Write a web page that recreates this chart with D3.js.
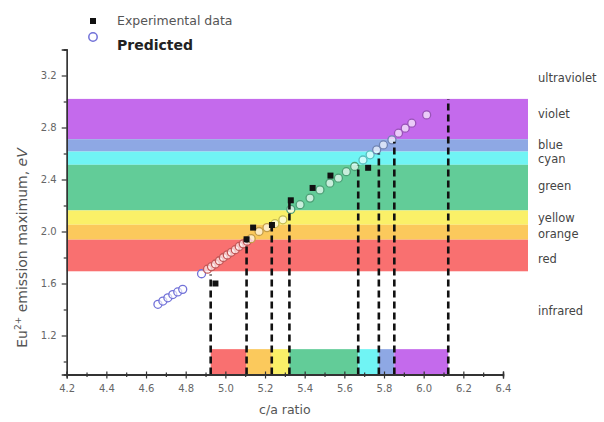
<!DOCTYPE html>
<html><head><meta charset="utf-8">
<script src="https://cdn.jsdelivr.net/npm/d3@7"></script>
<style>
body{margin:0;background:#fff;}
svg{display:block;font-family:"DejaVu Sans",sans-serif;}
</style></head>
<body>
<script>
// ---- data ----
const bandNames  = ["violet","blue","cyan","green","yellow","orange","red"];
const bandLow    = [2.71, 2.615, 2.513, 2.162, 2.052, 1.937, 1.694];
const bandHigh   = [3.02, 2.71, 2.615, 2.513, 2.162, 2.052, 1.937];
const bandColors = ["#c46aec","#8ea8e4","#70f4f4","#62cc98","#faf068","#fbc95c","#f97070"];

const regionLabels = ["ultraviolet","violet","blue","cyan","green","yellow","orange","red","infrared"];
const regionLabelY = [3.18, 2.90, 2.665, 2.555, 2.344, 2.10, 1.98, 1.783, 1.384];

// bottom colour bar segments along c/a
const segStart  = [4.926, 5.107, 5.234, 5.323, 5.670, 5.774, 5.852];
const segEnd    = [5.107, 5.234, 5.323, 5.670, 5.774, 5.852, 6.124];
const segColors = ["#f97070","#fbc95c","#faf068","#62cc98","#70f4f4","#8ea8e4","#c46aec"];

// dashed guide lines
const dashX   = [4.926, 5.107, 5.234, 5.323, 5.670, 5.774, 5.852, 6.124];
const dashTop = [1.67, 1.94, 2.05, 2.23, 2.51, 2.60, 2.69, 3.02];

// experimental data
const expX = [4.95, 5.107, 5.14, 5.235, 5.33, 5.44, 5.53, 5.72];
const expY = [1.60, 1.94, 2.03, 2.05, 2.24, 2.335, 2.43, 2.49];

// predicted
const predX = [4.66,4.685,4.71,4.735,4.76,4.785,
  4.88,4.91,4.93,4.95,4.97,4.99,5.01,5.03,5.05,5.07,5.09,5.11,5.13,
  5.17,5.21,5.25,5.29,5.33,5.377,5.427,5.477,5.527,5.57,5.61,5.652,5.694,5.73,5.763,5.797,5.84,5.873,5.907,5.94,6.015];
const predY = [1.44,1.465,1.49,1.515,1.535,1.555,
  1.675,1.71,1.73,1.75,1.775,1.80,1.82,1.84,1.86,1.885,1.905,1.925,1.945,
  2.00,2.03,2.06,2.09,2.17,2.206,2.257,2.32,2.372,2.41,2.46,2.50,2.55,2.59,2.628,2.666,2.705,2.756,2.795,2.833,2.897];

const xTicks = [4.2,4.4,4.6,4.8,5.0,5.2,5.4,5.6,5.8,6.0,6.2,6.4];
const xMinor = [4.3,4.5,4.7,4.9,5.1,5.3,5.5,5.7,5.9,6.1,6.3];
const yTicks = [1.2,1.6,2.0,2.4,2.8,3.2];
const yMinor = [1.0,1.4,1.8,2.2,2.6,3.0,3.4];

// ---- drawing ----
const W = 604, H = 422;
const svg = d3.select("body").append("svg").attr("width", W).attr("height", H);

const x = d3.scaleLinear().domain([4.2, 6.4]).range([66.7, 503]);
const y = d3.scaleLinear().domain([0.9, 3.4]).range([374.5, 49.5]);
const bandXEnd = 6.526;

// horizontal bands
svg.append("g").selectAll("rect").data(bandNames).join("rect")
  .attr("x", x(4.2)).attr("width", x(bandXEnd) - x(4.2))
  .attr("y", (d,i) => y(bandHigh[i]))
  .attr("height", (d,i) => y(bandLow[i]) - y(bandHigh[i]))
  .attr("fill", (d,i) => bandColors[i]);

// bottom segments
svg.append("g").selectAll("rect").data(segStart).join("rect")
  .attr("x", d => x(d))
  .attr("width", (d,i) => x(segEnd[i]) - x(d))
  .attr("y", y(1.095))
  .attr("height", y(0.9) - y(1.095))
  .attr("fill", (d,i) => segColors[i]);

// predicted circles, outline tinted by band
function bandAt(v){
  for (let i=0;i<bandNames.length;i++) if (v>=bandLow[i] && v<=bandHigh[i]) return bandColors[i];
  return null;
}
svg.append("g").selectAll("circle").data(predX).join("circle")
  .attr("cx", d => x(d))
  .attr("cy", (d,i) => y(predY[i]))
  .attr("r", 4)
  .attr("fill", "rgba(255,255,255,0.65)")
  .attr("stroke", (d,i) => { const c = bandAt(predY[i]); return c ? d3.color(c).darker(0.7).formatHex() : "#7272d8"; })
  .attr("stroke-width", 1.3);

// dashed lines
svg.append("g").selectAll("line").data(dashX).join("line")
  .attr("x1", d => x(d)).attr("x2", d => x(d))
  .attr("y1", y(0.9)).attr("y2", (d,i) => y(dashTop[i]))
  .attr("stroke", "#111").attr("stroke-width", 2.6)
  .attr("stroke-dasharray", "7,4");

// experimental squares
svg.append("g").selectAll("rect").data(expX).join("rect")
  .attr("x", d => x(d) - 3).attr("y", (d,i) => y(expY[i]) - 3)
  .attr("width", 6).attr("height", 6).attr("fill", "#111");

// axes
const axCol = "#333";
svg.append("g").attr("transform", `translate(0,${y(0.9)})`)
  .call(d3.axisBottom(x).tickValues(xTicks).tickSize(4).tickPadding(6).tickFormat(d3.format(".1f")));
svg.append("g").attr("transform", `translate(0,${y(0.9)})`)
  .call(d3.axisTop(x).tickValues(xTicks).tickSize(3).tickFormat(""));
svg.append("g").attr("transform", `translate(0,${y(0.9)})`)
  .call(d3.axisBottom(x).tickValues(xMinor).tickSize(2.5).tickFormat(""));
svg.append("g").attr("transform", `translate(0,${y(0.9)})`)
  .call(d3.axisTop(x).tickValues(xMinor).tickSize(2).tickFormat(""));

svg.append("g").attr("transform", `translate(${x(4.2)},0)`)
  .call(d3.axisLeft(y).tickValues(yTicks).tickSize(5).tickPadding(5).tickFormat(d3.format(".1f")));
svg.append("g").attr("transform", `translate(${x(4.2)},0)`)
  .call(d3.axisLeft(y).tickValues(yMinor).tickSize(3).tickFormat(""));

svg.selectAll(".domain").attr("stroke", axCol).attr("stroke-width", 1.3);
svg.selectAll(".tick line").attr("stroke", axCol).attr("stroke-width", 1.2);
svg.selectAll(".tick text").attr("fill", "#666").attr("font-size", 10)
  .attr("font-family", "DejaVu Sans, sans-serif");

// right labels
svg.append("g").selectAll("text").data(regionLabels).join("text")
  .attr("x", 538).attr("y", (d,i) => y(regionLabelY[i]))
  .attr("dominant-baseline", "middle")
  .attr("font-size", 11.5).attr("fill", "#444")
  .text(d => d);

// axis titles
svg.append("text").attr("x", (x(4.2)+x(6.4))/2).attr("y", 414)
  .attr("text-anchor", "middle").attr("font-size", 12.5).attr("fill", "#555")
  .text("c/a ratio");

const yt = svg.append("text")
  .attr("transform", `translate(27,${248}) rotate(-90)`)
  .attr("text-anchor", "middle").attr("font-size", 14).attr("fill", "#555");
yt.append("tspan").text("Eu");
yt.append("tspan").attr("font-size", 9).attr("dy", -6).text("2+");
yt.append("tspan").attr("dy", 6).text(" emission maximum, ");
yt.append("tspan").attr("font-style", "italic").text("eV");

// legend
svg.append("rect").attr("x", 90).attr("y", 18).attr("width", 6).attr("height", 6).attr("fill", "#111");
svg.append("text").attr("x", 117).attr("y", 21).attr("dominant-baseline", "middle")
  .attr("font-size", 12.5).attr("fill", "#555").text("Experimental data");
svg.append("circle").attr("cx", 93).attr("cy", 37).attr("r", 4.2)
  .attr("fill", "#fff").attr("stroke", "#7272d8").attr("stroke-width", 1.5);
svg.append("text").attr("x", 117).attr("y", 46).attr("dominant-baseline", "middle")
  .attr("font-size", 14).attr("font-weight", "bold").attr("fill", "#222").text("Predicted");
</script>
</body></html>
